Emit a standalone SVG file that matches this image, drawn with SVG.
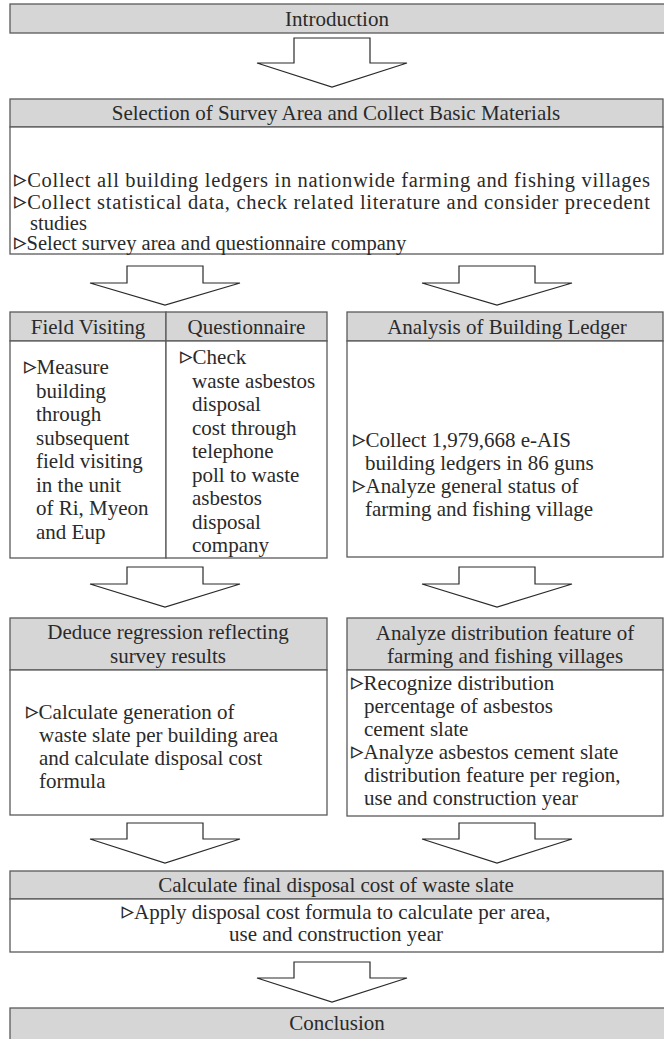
<svg xmlns="http://www.w3.org/2000/svg" width="664" height="1039" viewBox="0 0 664 1039">
<style>
.hd{fill:#d6d6d6;stroke:#5a5a5a;stroke-width:1.3}
.bd{fill:#ffffff;stroke:#5a5a5a;stroke-width:1.3}
.ar{fill:#ffffff;stroke:#2a2a2a;stroke-width:1.2;stroke-linejoin:miter}
text{font-family:"Liberation Serif","DejaVu Serif",serif;font-size:21px;fill:#2a2a2a}
.c{text-anchor:middle}
.s{font-size:20.5px}
.tri{font-family:"DejaVu Sans",sans-serif;font-size:25px}
</style>
<rect width="664" height="1039" fill="#ffffff"/>
<g id="connectors">
<polygon class="ar" points="294,38 370,38 370,63 407,63 332,87 257,63 294,63"/>
<polygon class="ar" points="127,266 203,266 203,283 240,283 165,305 90,283 127,283"/>
<polygon class="ar" points="459,266 535,266 535,283 572,283 497,305 422,283 459,283"/>
<polygon class="ar" points="127,567 203,567 203,584 240,584 165,607 90,584 127,584"/>
<polygon class="ar" points="459,567 535,567 535,584 572,584 497,607 422,584 459,584"/>
<polygon class="ar" points="127,823 203,823 203,839 240,839 165,863 90,839 127,839"/>
<polygon class="ar" points="459,823 535,823 535,839 572,839 497,863 422,839 459,839"/>
<polygon class="ar" points="294,962 370,962 370,978 407,978 332,1002 257,978 294,978"/>
</g>
<g id="introduction">
<rect class="hd" x="10" y="4" width="660" height="29"/>
<text class="c" x="337" y="26">Introduction</text>
</g>
<g id="selection">
<rect class="hd" x="10" y="99" width="653" height="28"/>
<rect class="bd" x="10" y="127" width="653" height="127"/>
<text class="c" x="336" y="120">Selection of Survey Area and Collect Basic Materials</text>
<text class="s" x="14" y="187" textLength="636" lengthAdjust="spacing"><tspan class="tri">▹</tspan>Collect all building ledgers in nationwide farming and fishing villages</text>
<text class="s" x="14" y="208.5" textLength="636" lengthAdjust="spacing"><tspan class="tri">▹</tspan>Collect statistical data, check related literature and consider precedent</text>
<text class="s" x="30" y="230">studies</text>
<text class="s" x="14" y="250"><tspan class="tri">▹</tspan>Select survey area and questionnaire company</text>
</g>
<g id="field-visiting">
<rect class="hd" x="10" y="312" width="156" height="29"/>
<rect class="bd" x="10" y="341" width="156" height="217"/>
<text class="c" x="88" y="334">Field Visiting</text>
<text x="24" y="374"><tspan class="tri">▹</tspan>Measure</text>
<text x="36" y="397.5">building</text>
<text x="36" y="421">through</text>
<text x="36" y="444.5">subsequent</text>
<text x="36" y="468">field visiting</text>
<text x="36" y="491.5">in the unit</text>
<text x="36" y="515">of Ri, Myeon</text>
<text x="36" y="538.5">and Eup</text>
</g>
<g id="questionnaire">
<rect class="hd" x="166" y="312" width="161" height="29"/>
<rect class="bd" x="166" y="341" width="161" height="217"/>
<text class="c" x="246.5" y="334">Questionnaire</text>
<text x="180" y="364"><tspan class="tri">▹</tspan>Check</text>
<text x="192" y="387.5">waste asbestos</text>
<text x="192" y="411">disposal</text>
<text x="192" y="434.5">cost through</text>
<text x="192" y="458">telephone</text>
<text x="192" y="481.5">poll to waste</text>
<text x="192" y="505">asbestos</text>
<text x="192" y="528.5">disposal</text>
<text x="192" y="552">company</text>
</g>
<g id="analysis-ledger">
<rect class="hd" x="347" y="312" width="316" height="29"/>
<rect class="bd" x="347" y="341" width="316" height="216"/>
<text class="c" x="507" y="334">Analysis of Building Ledger</text>
<text x="353" y="447"><tspan class="tri">▹</tspan>Collect 1,979,668 e-AIS</text>
<text x="365" y="470">building ledgers in 86 guns</text>
<text x="353" y="493"><tspan class="tri">▹</tspan>Analyze general status of</text>
<text x="365" y="516">farming and fishing village</text>
</g>
<g id="deduce-regression">
<rect class="hd" x="10" y="618" width="317" height="52"/>
<rect class="bd" x="10" y="670" width="317" height="145"/>
<text class="c" x="168" y="639">Deduce regression reflecting</text>
<text class="c" x="168" y="663">survey results</text>
<text x="26" y="719"><tspan class="tri">▹</tspan>Calculate generation of</text>
<text x="39" y="742">waste slate per building area</text>
<text x="39" y="765">and calculate disposal cost</text>
<text x="39" y="788">formula</text>
</g>
<g id="analyze-distribution">
<rect class="hd" x="347" y="618" width="316" height="52"/>
<rect class="bd" x="347" y="670" width="316" height="146"/>
<text class="c" x="505" y="640">Analyze distribution feature of</text>
<text class="c" x="505" y="663">farming and fishing villages</text>
<text x="351" y="690"><tspan class="tri">▹</tspan>Recognize distribution</text>
<text x="364" y="713">percentage of asbestos</text>
<text x="364" y="736">cement slate</text>
<text x="351" y="759"><tspan class="tri">▹</tspan>Analyze asbestos cement slate</text>
<text x="364" y="782">distribution feature per region,</text>
<text x="364" y="805">use and construction year</text>
</g>
<g id="final-cost">
<rect class="hd" x="10" y="871" width="653" height="28"/>
<rect class="bd" x="10" y="899" width="653" height="53"/>
<text class="c" x="336" y="892">Calculate final disposal cost of waste slate</text>
<text class="c" x="336" y="919"><tspan class="tri">▹</tspan>Apply disposal cost formula to calculate per area,</text>
<text class="c" x="336" y="941">use and construction year</text>
</g>
<g id="conclusion">
<rect class="hd" x="10" y="1008" width="660" height="40"/>
<text class="c" x="337" y="1030">Conclusion</text>
</g>
</svg>
